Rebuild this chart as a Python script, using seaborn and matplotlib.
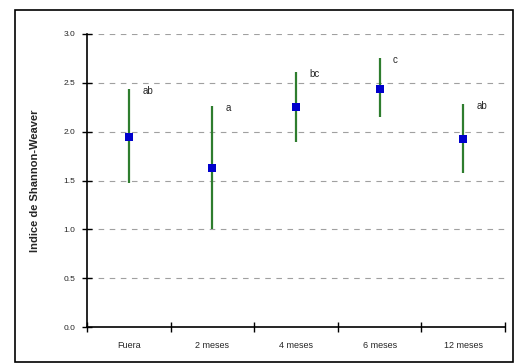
import pandas as pd
import matplotlib
matplotlib.use("Agg")
import matplotlib.pyplot as plt
import seaborn as sns
from matplotlib.patches import Rectangle

# data
categories = ["Fuera", "2 meses", "4 meses", "6 meses", "12 meses"]
means = [1.95, 1.63, 2.25, 2.44, 1.93]
lows = [1.47, 1.00, 1.89, 2.15, 1.58]
highs = [2.44, 2.26, 2.61, 2.75, 2.28]
letters = ["ab", "a", "bc", "c", "ab"]
y_ticks = [0.0, 0.5, 1.0, 1.5, 2.0, 2.5, 3.0]

df = pd.DataFrame({"grupo": categories, "media": means, "low": lows, "high": highs, "letra": letters})

sns.set_style("white")
plt.rcParams["font.family"] = ["Liberation Sans", "DejaVu Sans"]

fig = plt.figure(figsize=(5.23, 3.64), dpi=100)
ax = fig.add_axes([0.1663, 0.1016, 0.7993, 0.805])

# outer frame
fig.patches.append(Rectangle((0.0287, 0.006), 0.952, 0.966, transform=fig.transFigure,
                             fill=False, edgecolor="black", linewidth=1.2))

for y in y_ticks[1:]:
    ax.axhline(y, color="#a0a0a0", linestyle=(0, (5, 5)), linewidth=0.8, zorder=0)

pos = range(len(df))
ax.vlines(pos, df["low"], df["high"], color="#2e7d2e", linewidth=1.6, zorder=2)
sns.scatterplot(x=list(pos), y=df["media"], marker="s", color="#0000cc", s=40,
                edgecolor="#0000cc", linewidth=0, zorder=3, ax=ax)

for i, row in df.iterrows():
    ax.text(i + 0.16, row["high"] - 0.02, row["letra"], fontsize=7, ha="left", va="center")

ax.set_xlim(-0.5, 4.5)
ax.set_ylim(0, 3.0)
ax.set_yticks(y_ticks)
ax.set_yticklabels(["{:.1f}".format(v) for v in y_ticks], fontsize=6)
ax.set_xticks([i - 0.5 for i in range(len(categories) + 1)])
ax.set_xticklabels([])
ax.set_xticks(list(pos), minor=True)
ax.set_xticklabels(categories, minor=True, fontsize=6.5)
ax.tick_params(axis="x", which="minor", bottom=True, length=0, pad=10)
ax.tick_params(axis="both", which="major", bottom=True, left=True, direction="inout",
               length=7, width=1, color="black")
ax.tick_params(axis="y", pad=5)

for side in ["top", "right"]:
    ax.spines[side].set_visible(False)
for side in ["left", "bottom"]:
    ax.spines[side].set_color("black")
    ax.spines[side].set_linewidth(1.2)

ax.set_xlabel("")
ax.set_ylabel("Indice de Shannon-Weaver", fontsize=8, fontweight="bold", labelpad=17)

fig.savefig("out.png", dpi=100)
